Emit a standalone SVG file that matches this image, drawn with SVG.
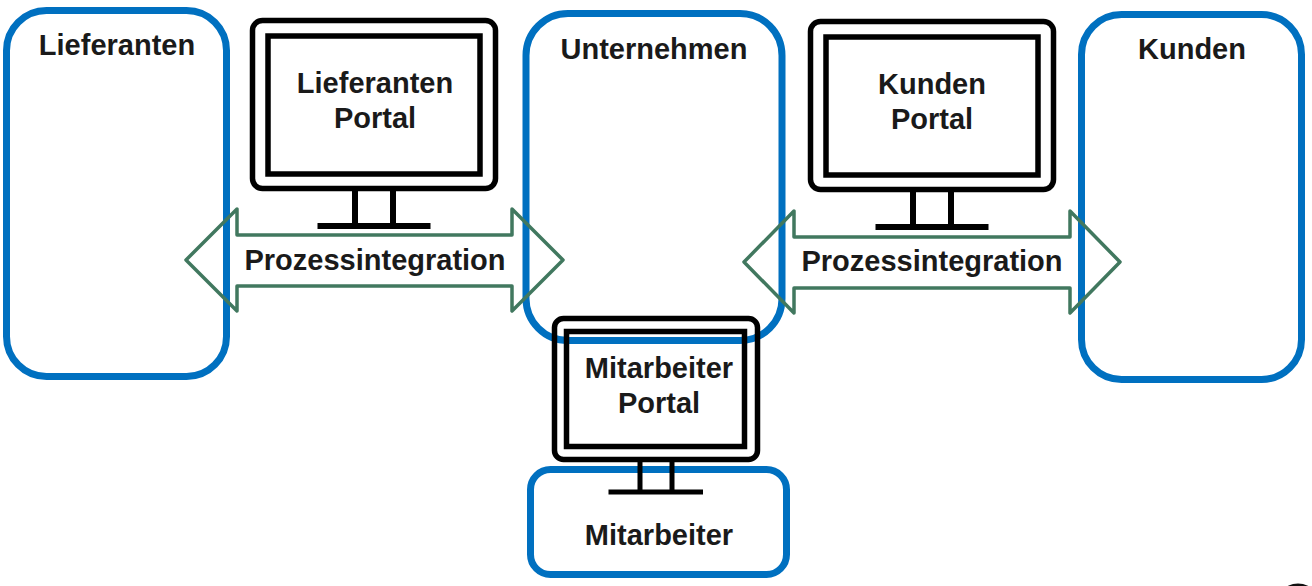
<svg xmlns="http://www.w3.org/2000/svg" width="1312" height="586" viewBox="0 0 1312 586">
<style>
.box{fill:none;stroke:#0070c0;stroke-width:7}
.scr{fill:none;stroke:#000;stroke-width:5.500}
.arr{fill:none;stroke:#41785f;stroke-width:3.500;stroke-linejoin:round}
text{font-family:"Liberation Sans",Arial,sans-serif;font-weight:700;font-size:29px;fill:#1a1a1a;text-anchor:middle}
</style>
<defs>
<g id="stand"><path d="M-19 0V34M19 0V34" fill="none" stroke="#000" stroke-width="6"/><path d="M-56.500 35H56.500" fill="none" stroke="#000" stroke-width="6"/></g>
</defs>
<rect width="1312" height="586" fill="#fff"/>
<g id="lieferanten"><rect class="box" x="6.500" y="10.500" width="220" height="366" rx="40"/><text x="117" y="55">Lieferanten</text></g>
<g id="unternehmen"><rect class="box" x="526" y="13.500" width="256" height="327" rx="42"/><text x="654" y="59">Unternehmen</text></g>
<g id="kunden"><rect class="box" x="1081.500" y="14.500" width="220" height="365" rx="40"/><text x="1192" y="59">Kunden</text></g>
<g id="mitarbeiter"><rect class="box" x="530.500" y="469.500" width="256" height="105" rx="20"/><text x="659" y="544.500">Mitarbeiter</text></g>
<g id="lieferanten-portal"><rect class="scr" x="252.500" y="20.500" width="243" height="168" rx="10"/><rect class="scr" x="268" y="36" width="212" height="138"/><use href="#stand" x="374" y="191"/><text x="375" y="93">Lieferanten</text><text x="375" y="128">Portal</text></g>
<g id="kunden-portal"><rect class="scr" x="810.500" y="21.500" width="243" height="168" rx="10"/><rect class="scr" x="826" y="37" width="212" height="138"/><use href="#stand" x="932" y="192"/><text x="932" y="94">Kunden</text><text x="932" y="129">Portal</text></g>
<g id="mitarbeiter-portal"><rect class="scr" x="554.500" y="318.500" width="203" height="141" rx="9"/><rect class="scr" x="566.500" y="331.500" width="178" height="115"/><path d="M640 462V492M672 462V492" fill="none" stroke="#000" stroke-width="5"/><path d="M608.500 492H703" fill="none" stroke="#000" stroke-width="5"/><text x="659" y="377.500">Mitarbeiter</text><text x="659" y="412.500">Portal</text></g>
<g id="connectors">
<path class="arr" d="M186 260L237 209V235H512V209L563 260L512 311V286H237V311Z"/>
<path class="arr" d="M744 262L794 211V237H1070V211L1120 262L1070 313V288H794V313Z"/>
</g>
<g id="labels"><text x="375" y="269.500">Prozessintegration</text><text x="932" y="270.500">Prozessintegration</text></g>
<ellipse id="corner-mark" cx="1298" cy="590" rx="13" ry="6.500" fill="#111"/>
</svg>
